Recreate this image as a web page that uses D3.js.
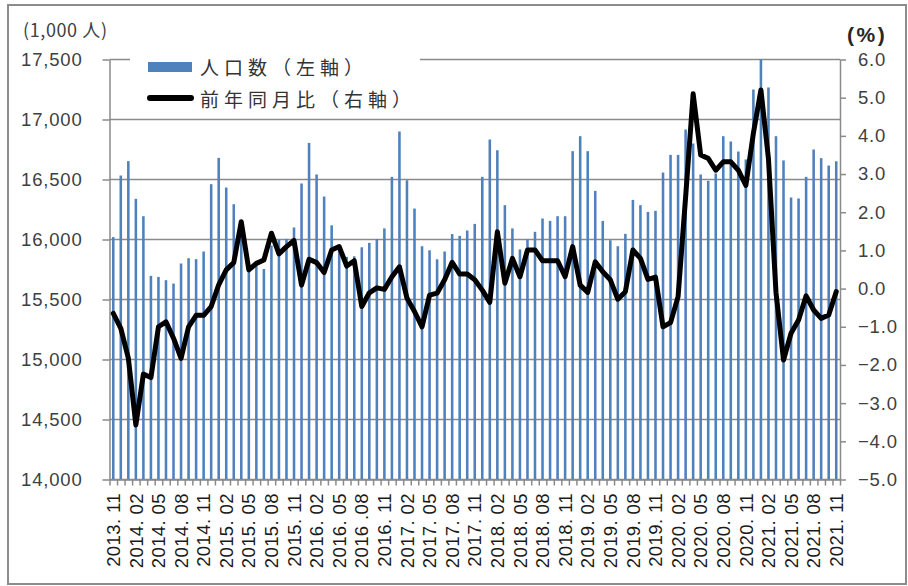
<!DOCTYPE html>
<html><head><meta charset="utf-8">
<script src="https://cdn.jsdelivr.net/npm/d3@7"></script>
<style>body{margin:0;background:#fff}</style>
</head><body><svg id="c" width="908" height="586"></svg>
<script>
const categories = [
"2013.11","2013.12",
"2014.01","2014.02","2014.03","2014.04","2014.05","2014.06","2014.07","2014.08","2014.09","2014.10","2014.11","2014.12",
"2015.01","2015.02","2015.03","2015.04","2015.05","2015.06","2015.07","2015.08","2015.09","2015.10","2015.11","2015.12",
"2016.01","2016.02","2016.03","2016.04","2016.05","2016.06","2016.07","2016.08","2016.09","2016.10","2016.11","2016.12",
"2017.01","2017.02","2017.03","2017.04","2017.05","2017.06","2017.07","2017.08","2017.09","2017.10","2017.11","2017.12",
"2018.01","2018.02","2018.03","2018.04","2018.05","2018.06","2018.07","2018.08","2018.09","2018.10","2018.11","2018.12",
"2019.01","2019.02","2019.03","2019.04","2019.05","2019.06","2019.07","2019.08","2019.09","2019.10","2019.11","2019.12",
"2020.01","2020.02","2020.03","2020.04","2020.05","2020.06","2020.07","2020.08","2020.09","2020.10","2020.11","2020.12",
"2021.01","2021.02","2021.03","2021.04","2021.05","2021.06","2021.07","2021.08","2021.09","2021.10","2021.11"];

// 人口数 (1,000人) – left axis
const population = [
16020,16533,
16653,16339,16194,15697,15688,15661,15633,15800,15844,15836,15900,16461,
16680,16433,16294,16050,15758,15800,15754,15950,16000,16005,16100,16467,
16805,16542,16358,16118,15930,15855,15860,15935,15972,16004,16092,16522,
16900,16494,16258,15944,15910,15835,15900,16045,16030,16075,16130,16522,
16833,16744,16286,16092,15917,16000,16064,16175,16155,16194,16194,16736,
16861,16736,16405,16155,15994,15944,16047,16330,16286,16230,16239,16558,
16705,16705,16917,16800,16542,16489,16550,16861,16817,16733,16667,17250,
17520,17267,16861,16659,16350,16342,16522,16750,16678,16616,16652];

// 前年同月比 (%) – right axis
const yoyChange = [
-0.65,-1.04,
-1.82,-3.57,-2.24,-2.33,-1.0,-0.87,-1.3,-1.83,-1.0,-0.7,-0.7,-0.47,
0.1,0.49,0.68,1.75,0.49,0.66,0.75,1.45,0.91,1.1,1.26,0.09,
0.77,0.68,0.42,1.01,1.1,0.59,0.73,-0.47,-0.11,0.02,-0.02,0.31,
0.57,-0.25,-0.6,-1.0,-0.17,-0.12,0.23,0.69,0.38,0.38,0.23,-0.04,
-0.36,1.49,0.14,0.79,0.31,1.01,1.01,0.73,0.73,0.73,0.31,1.1,
0.09,-0.1,0.7,0.44,0.23,-0.28,-0.08,1.01,0.79,0.24,0.3,-1.0,
-0.89,-0.21,2.4,5.1,3.5,3.41,3.1,3.32,3.32,3.1,2.7,4.07,
5.2,3.4,-0.1,-1.87,-1.17,-0.82,-0.19,-0.56,-0.78,-0.69,-0.08];

const tickLabels = ["2013. 11","2014. 02","2014. 05","2014. 08","2014. 11","2015. 02","2015. 05","2015. 08","2015. 11",
"2016. 02","2016. 05","2016 .08","2016. 11","2017. 02","2017. 05","2017. 08","2017. 11","2018. 02","2018. 05","2018. 08",
"2018. 11","2019. 02","2019. 05","2019. 08","2019. 11","2020. 02","2020. 05","2020. 08","2020. 11","2021. 02","2021. 05",
"2021. 08","2021. 11"];
const leftTicks = [14000,14500,15000,15500,16000,16500,17000,17500];
const rightTicks = [-5,-4,-3,-2,-1,0,1,2,3,4,5,6];
const legendLabels = ["人口数（左軸）","前年同月比（右軸）"];
const leftUnit = "(1,000 人)";
const rightUnit = "(%)";

const W = 908, H = 586;
const P = {left:109.5, right:840, top:59.5, bottom:479.5};
const NUMFONT = "'Liberation Sans', Arial, sans-serif";
const JPFONT = "'Noto Sans CJK JP', 'Liberation Sans', sans-serif";
const GRID = "#8a8a8a";

const svg = d3.select("#c");
svg.append("rect").attr("width",W).attr("height",H).attr("fill","#fff");
svg.append("rect").attr("x",8).attr("y",5).attr("width",898).attr("height",579)
  .attr("fill","none").attr("stroke","#8c8c8c").attr("stroke-width",2);

const x = d3.scaleBand().domain(categories).range([P.left, P.right]).padding(0);
const yL = d3.scaleLinear().domain([14000,17500]).range([P.bottom, P.top]);
const yR = d3.scaleLinear().domain([-5,6]).range([P.bottom, P.top]);
const cx = i => x(categories[i]) + x.bandwidth()/2;

svg.append("clipPath").attr("id","clip").append("rect")
  .attr("x",P.left).attr("y",P.top).attr("width",P.right-P.left).attr("height",P.bottom-P.top);

// gridlines
svg.append("g").selectAll("line").data(leftTicks).join("line")
  .attr("x1",P.left).attr("x2",P.right).attr("y1",d=>yL(d)).attr("y2",d=>yL(d))
  .attr("stroke",GRID).attr("stroke-width",1.5);

// bars
const bw = x.bandwidth()*0.34;
svg.append("g").attr("clip-path","url(#clip)").selectAll("rect").data(population).join("rect")
  .attr("x",(d,i)=>cx(i)-bw/2).attr("y",d=>yL(d))
  .attr("width",bw).attr("height",d=>P.bottom-yL(d))
  .attr("fill","#4F81BD");

// axes
const axL = svg.append("g").attr("transform",`translate(${P.left},0)`)
  .call(d3.axisLeft(yL).tickValues(leftTicks).tickFormat(d3.format(",")).tickSize(7).tickSizeOuter(0).tickPadding(20));
const axR = svg.append("g").attr("transform",`translate(${P.right},0)`)
  .call(d3.axisRight(yR).tickValues(rightTicks).tickFormat(d3.format(".1f")).tickSize(6).tickSizeOuter(0).tickPadding(12));
const xi = d3.scaleLinear().domain([0,categories.length]).range([P.left,P.right]);
const axB = svg.append("g").attr("transform",`translate(0,${P.bottom})`)
  .call(d3.axisBottom(xi).tickValues(d3.range(0,categories.length+1)).tickFormat("").tickSize(6).tickSizeOuter(0));
[axL,axR,axB].forEach(a=>{
  a.select(".domain").attr("stroke",GRID).attr("stroke-width",1.5);
  a.selectAll(".tick line").attr("stroke",GRID).attr("stroke-width",1.5);
  a.selectAll("text").attr("font-family",NUMFONT).attr("font-size","18.5px")
    .attr("fill","#404040").attr("letter-spacing","0.8px");
});

// line
const line = d3.line().x((d,i)=>cx(i)).y(d=>yR(d));
svg.append("path").datum(yoyChange).attr("d",line).attr("fill","none")
  .attr("stroke","#000").attr("stroke-width",5).attr("stroke-linejoin","round").attr("stroke-linecap","round");

// x labels
svg.append("g").selectAll("text").data(tickLabels).join("text")
  .attr("transform",(d,k)=>`translate(${cx(k*3)},493) rotate(-90)`)
  .attr("text-anchor","end").attr("dy","0.36em")
  .attr("font-family",NUMFONT).attr("font-size","18.5px").attr("letter-spacing","0.4px")
  .attr("fill","#1a1a1a").text(d=>d);

// unit labels
svg.append("text").attr("x",23).attr("y",37).attr("font-family",JPFONT).attr("font-size","18px")
  .attr("fill","#404040").attr("letter-spacing","0.6px").text(leftUnit);
svg.append("text").attr("x",847).attr("y",42).attr("font-family",NUMFONT).attr("font-size","21px")
  .attr("font-weight","bold").attr("fill","#262626").attr("letter-spacing","2.5px").text(rightUnit);

// legend
const lg = svg.append("g");
lg.append("rect").attr("x",130).attr("y",50).attr("width",290).attr("height",62).attr("fill","#fff");
lg.append("rect").attr("x",148).attr("y",62).attr("width",44).attr("height",10).attr("fill","#4F81BD");
lg.append("line").attr("x1",150).attr("x2",191).attr("y1",98).attr("y2",98)
  .attr("stroke","#000").attr("stroke-width",6).attr("stroke-linecap","round");
lg.selectAll("text.lt").data(legendLabels).join("text").attr("class","lt")
  .attr("x",200).attr("y",(d,i)=>i===0?75:107)
  .attr("font-family",JPFONT).attr("font-size","19px").attr("letter-spacing","5px")
  .attr("fill","#333").text(d=>d);
</script></body></html>
